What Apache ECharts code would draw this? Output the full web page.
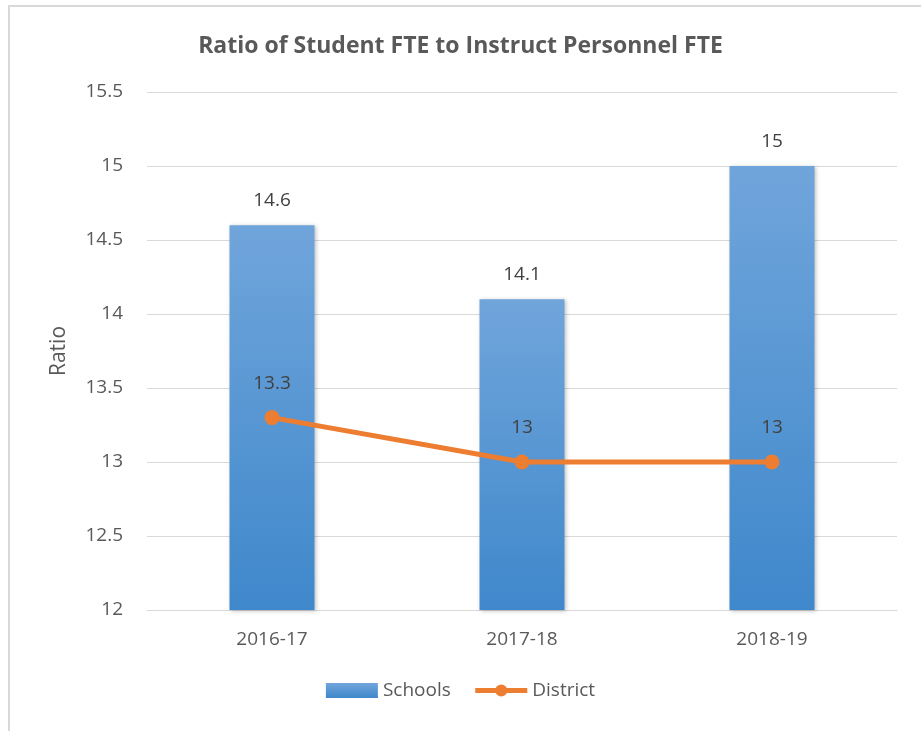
<!DOCTYPE html>
<html><head><meta charset="utf-8">
<script src="https://cdn.jsdelivr.net/npm/echarts@6/dist/echarts.min.js"></script>
<style>html,body{margin:0;padding:0;background:#fff}#c{width:921px;height:731px}
#frame{position:absolute;left:8px;top:5px;width:930px;height:740px;border:2px solid #d9d9d9;box-sizing:border-box;pointer-events:none}</style>
</head><body><div id="c"></div><div id="frame"></div>
<script>
const categories = ['2016-17', '2017-18', '2018-19'];
const schools = [14.6, 14.1, 15];
const district = [13.3, 13, 13];
const yTicks = [12, 12.5, 13, 13.5, 14, 14.5, 15, 15.5];

const chart = echarts.init(document.getElementById('c'));
const font = '"Open Sans", "Noto Sans", sans-serif';
const txt = '#595959';
chart.setOption({
  animation: false,
  textStyle: { fontFamily: font },
  title: {
    text: 'Ratio of Student FTE to Instruct Personnel FTE',
    left: 'center', top: 30,
    textStyle: { fontFamily: font, fontSize: 23, fontWeight: 'bold', color: txt }
  },
  grid: { left: 147, right: 24, top: 92, bottom: 121, containLabel: false },
  legend: {
    bottom: 26, left: 'center', itemGap: 22, itemWidth: 52, itemHeight: 15,
    textStyle: { fontFamily: font, fontSize: 19, color: txt },
    data: [
      { name: 'Schools', icon: 'rect' },
      { name: 'District', lineStyle: { width: 5 } }
    ]
  },
  xAxis: {
    type: 'category', data: categories,
    axisLine: { show: true, lineStyle: { color: '#d9d9d9', width: 1 } },
    axisTick: { show: false },
    axisLabel: { fontFamily: font, fontSize: 19, color: txt, margin: 20 }
  },
  yAxis: {
    type: 'value', min: yTicks[0], max: yTicks[yTicks.length - 1], interval: 0.5,
    name: 'Ratio', nameLocation: 'middle', nameGap: 77, nameRotate: 90,
    nameTextStyle: { fontFamily: font, fontSize: 21, color: txt },
    axisLine: { show: false }, axisTick: { show: false },
    axisLabel: { fontFamily: font, fontSize: 19, color: txt, margin: 24 },
    splitLine: { lineStyle: { color: '#d9d9d9', width: 1 } }
  },
  series: [
    {
      name: 'Schools', type: 'bar', data: schools, barWidth: 85,
      itemStyle: {
        color: new echarts.graphic.LinearGradient(0, 0, 0, 1, [
          { offset: 0, color: '#70a5db' },
          { offset: 1, color: '#3f88cb' }
        ]),
        shadowColor: 'rgba(0,0,0,0.25)', shadowBlur: 4, shadowOffsetX: 1, shadowOffsetY: 1
      },
      label: { show: true, position: 'top', distance: 15, fontFamily: font, fontSize: 19, color: '#404040' }
    },
    {
      name: 'District', type: 'line', data: district,
      symbol: 'circle', symbolSize: 15,
      lineStyle: { color: '#ed7d31', width: 5 },
      itemStyle: { color: '#ed7d31' },
      label: { show: true, position: 'top', distance: 17, fontFamily: font, fontSize: 19, color: '#404040' },
      z: 5
    }
  ]
});
</script></body></html>
